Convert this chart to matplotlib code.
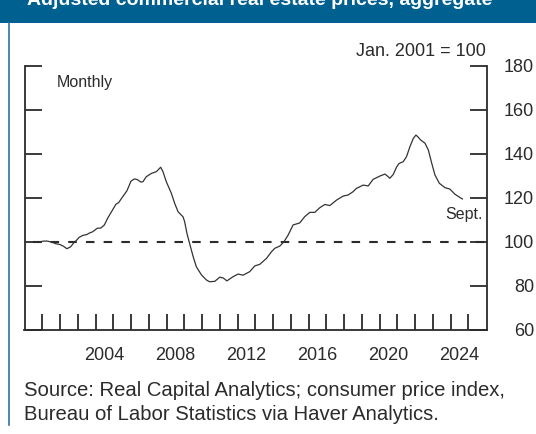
import matplotlib
matplotlib.use("Agg")
import matplotlib.pyplot as plt
from matplotlib.patches import Rectangle
from matplotlib.lines import Line2D

# ---- data ----
dates = [2001.00, 2001.25, 2001.50, 2001.75, 2002.00, 2002.20, 2002.39, 2002.60, 2002.80, 2002.95,
         2003.08, 2003.30, 2003.50, 2003.65, 2003.84, 2004.10, 2004.30, 2004.50, 2004.68, 2004.96,
         2005.15, 2005.30, 2005.53, 2005.77, 2006.00, 2006.19, 2006.35, 2006.55, 2006.67, 2006.86,
         2007.15, 2007.43, 2007.67, 2007.80, 2007.99, 2008.27, 2008.46, 2008.65, 2008.93, 2009.02,
         2009.15, 2009.30, 2009.50, 2009.68, 2009.97, 2010.25, 2010.43, 2010.72, 2011.00, 2011.20,
         2011.40, 2011.75, 2012.03, 2012.31, 2012.69, 2012.97, 2013.25, 2013.63, 2013.91, 2014.10,
         2014.38, 2014.62, 2014.85, 2015.13, 2015.50, 2015.79, 2016.07, 2016.35, 2016.63, 2016.92,
         2017.20, 2017.58, 2017.95, 2018.23, 2018.51, 2018.70, 2019.08, 2019.36, 2019.64, 2020.02,
         2020.30, 2020.43, 2020.58, 2020.77, 2020.96, 2021.10, 2021.33, 2021.52, 2021.71, 2021.90,
         2022.05, 2022.15, 2022.31, 2022.56, 2022.75, 2022.94, 2023.12, 2023.37, 2023.69, 2023.96,
         2024.24, 2024.52, 2024.67]
index_values = [100.3, 100.4, 100.0, 99.2, 98.8, 98.0, 96.9, 97.8, 99.8, 100.9,
                102.1, 103.0, 103.3, 104.0, 104.6, 106.2, 106.3, 107.7, 110.7, 114.5,
                117.1, 117.8, 120.5, 123.2, 127.6, 128.6, 128.3, 127.2, 127.3, 129.6,
                131.1, 131.9, 133.9, 131.9, 127.3, 122.1, 117.5, 113.7, 111.4, 109.2,
                103.9, 99.3, 93.3, 88.7, 85.0, 82.7, 81.9, 82.1, 84.0, 83.6,
                82.3, 84.2, 85.4, 84.9, 86.5, 89.1, 89.8, 92.5, 95.5, 97.1,
                98.1, 100.1, 103.1, 107.7, 108.6, 111.5, 113.4, 113.4, 115.5, 117.0,
                116.5, 119.0, 120.8, 121.3, 122.8, 124.3, 125.8, 125.4, 128.4, 129.9,
                130.8, 130.0, 128.9, 130.6, 134.0, 135.6, 136.4, 138.7, 143.2, 147.0,
                148.5, 147.8, 146.3, 144.8, 141.7, 135.7, 130.4, 126.6, 124.6, 124.0,
                121.7, 120.2, 119.5]
year_ticks = list(range(2001, 2026))
year_labels = ["2004", "2008", "2012", "2016", "2020", "2024"]
year_label_pos = [2004.5, 2008.5, 2012.5, 2016.5, 2020.5, 2024.5]
y_ticks = [60, 80, 100, 120, 140, 160, 180]
baseline = 100

W, H = 536, 434
plt.rcParams['font.family'] = ['Liberation Sans', 'DejaVu Sans']
fig = plt.figure(figsize=(W / 100, H / 100), dpi=100)
fig.patch.set_facecolor('white')

ink = '#2b2b2b'
blue = '#00608F'

# header band + left rule
fig.patches.append(Rectangle((0, 1 - 23 / H), 1, 23 / H, transform=fig.transFigure,
                             facecolor=blue, edgecolor='none', zorder=0))
fig.lines.append(Line2D([8.5 / W, 8.5 / W], [1 - 23 / H, 1 - 425 / H], transform=fig.transFigure,
                        color='#2f72a3', lw=1.2))
fig.text(27 / W, 1 - 5 / H, "Adjusted commercial real estate prices, aggregate",
         color='white', fontsize=14, fontweight='bold', ha='left', va='baseline')

# axes
left, right = 24.5 / W, 487.3 / W
bottom, top = 1 - 330 / H, 1 - 65.7 / H
ax = fig.add_axes([left, bottom, right - left, top - bottom])
ax.set_xlim(2000.0, 2026.07)
ax.set_ylim(60, 180)

ax.plot(dates, index_values, color='#333333', lw=0.9, zorder=3)
ax.axhline(baseline, color=ink, lw=1.5, linestyle=(4.75, (4.1, 4.4)), zorder=2)

for s in ['top']:
    ax.spines[s].set_visible(False)
for s in ['left', 'right', 'bottom']:
    ax.spines[s].set_color(ink)
    ax.spines[s].set_linewidth(1.3)

# x ticks: year boundaries (no labels), labels at mid-year
ax.set_xticks(year_ticks)
ax.set_xticklabels([])
ax.set_xticks(year_label_pos, minor=True)
ax.set_xticklabels(year_labels, minor=True)
ax.tick_params(axis='x', which='major', direction='in', length=11.5, width=1.3, color=ink,
               bottom=True, top=False)
ax.tick_params(axis='x', which='minor', direction='in', length=0, pad=12.5,
               labelsize=13, labelcolor=ink)

# y ticks: both sides inward, labels on right
ax.set_yticks(y_ticks)
ax.set_yticks([180], minor=True)
ax.tick_params(axis='y', which='major', direction='in', length=12.2, width=1.3, color=ink,
               left=True, right=True, labelleft=False, labelright=True,
               labelsize=13, labelcolor=ink, pad=33.6)
ax.tick_params(axis='y', which='minor', direction='in', length=23.8, width=1.3, color=ink,
               left=True, right=True, labelleft=False, labelright=False)
for t in ax.yaxis.get_major_ticks():
    t.label2.set_horizontalalignment('right')

# annotations
fig.text(57 / W, 1 - 82 / H, "Monthly", fontsize=11.5, color=ink, ha='left', va='center')
fig.text(486 / W, 1 - 52 / H, "Jan. 2001 = 100", fontsize=13, color=ink, ha='right', va='center')
fig.text(483 / W, 1 - 214 / H, "Sept.", fontsize=11.5, color=ink, ha='right', va='center')

fig.text(24 / W, 1 - 390 / H, "Source: Real Capital Analytics; consumer price index,",
         fontsize=14.6, color=ink, ha='left', va='center')
fig.text(24 / W, 1 - 414 / H, "Bureau of Labor Statistics via Haver Analytics.",
         fontsize=14.6, color=ink, ha='left', va='center')

fig.savefig("out.png", dpi=100)
